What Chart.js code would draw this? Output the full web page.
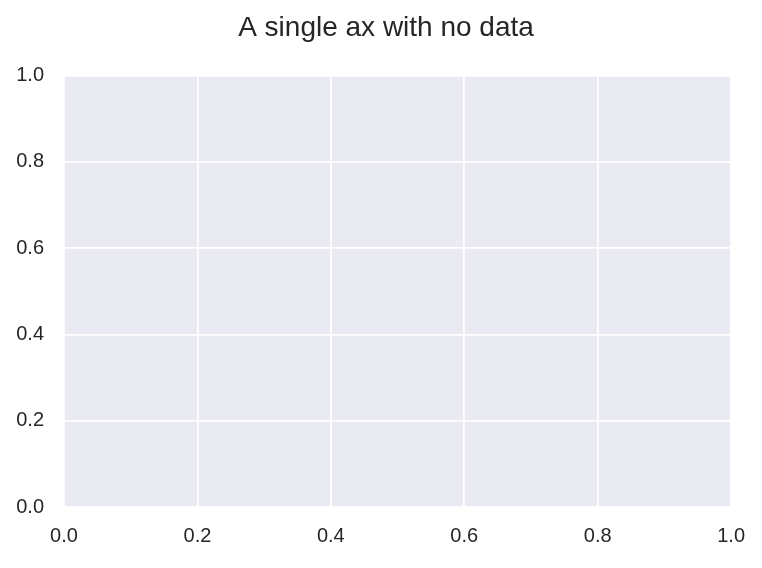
<!DOCTYPE html>
<html>
<head>
<meta charset="utf-8">
<script src="https://cdn.jsdelivr.net/npm/chart.js@4/dist/chart.umd.min.js"></script>
<style>
  body { margin: 0; background: #fff; }
  #wrap { width: 762px; height: 568px; }
</style>
</head>
<body>
<div id="wrap"><canvas id="grafico"></canvas></div>
<script>
// the axes hold no data at all
const xValues = [];
const yValues = [];
const xTicks = [0, 0.2, 0.4, 0.6, 0.8, 1.0];
const yTicks = [0, 0.2, 0.4, 0.6, 0.8, 1.0];
const tickLabels = ['0.0', '0.2', '0.4', '0.6', '0.8', '1.0'];

const corTexto = '#262626';

// fundo cinza-azulado do estilo seaborn
const fundoPlot = {
    id: 'fundoPlot',
    afterLayout(chart) {
        // centraliza o título na figura inteira, não só na área do layout
        const t = chart.titleBlock;
        if (t) { t.left += 20; t.right += 20; }
    },
    beforeDraw(chart) {
        const { ctx, chartArea: a } = chart;
        ctx.save();
        ctx.fillStyle = '#EAEAF2';
        ctx.fillRect(a.left, a.top, a.right - a.left, a.bottom - a.top);
        ctx.restore();
    }
};

function fixTicks(lista) {
    return function (scale) {
        scale.ticks = lista.map(v => ({ value: v }));
    };
}

new Chart(document.getElementById('grafico'), {
    type: 'scatter',
    data: {
        datasets: [{
            data: xValues.map((x, i) => ({ x: x, y: yValues[i] }))
        }]
    },
    options: {
        responsive: true,
        maintainAspectRatio: false,
        animation: false,
        layout: { padding: { left: 0, right: 30, top: 0, bottom: 0 } },
        plugins: {
            legend: { display: false },
            tooltip: { enabled: false },
            title: {
                display: true,
                text: 'A single ax with no data',
                color: corTexto,
                font: { family: 'Liberation Sans, Arial, sans-serif', size: 28, weight: 'normal' },
                padding: { top: 11, bottom: 31 }
            }
        },
        scales: {
            x: {
                type: 'linear',
                min: 0,
                max: 1,
                afterBuildTicks: fixTicks(xTicks),
                afterFit(scale) { scale.height = 61; },
                border: { display: false },
                grid: { color: '#ffffff', lineWidth: 1.8, drawTicks: false },
                ticks: {
                    color: corTexto,
                    padding: 17,
                    maxRotation: 0,
                    font: { family: 'Liberation Sans, Arial, sans-serif', size: 20 },
                    callback: (v, i) => tickLabels[i]
                }
            },
            y: {
                type: 'linear',
                min: 0,
                max: 1,
                afterBuildTicks: fixTicks(yTicks),
                afterFit(scale) { scale.width = 64; },
                border: { display: false },
                grid: { color: '#ffffff', lineWidth: 1.8, drawTicks: false },
                ticks: {
                    color: corTexto,
                    padding: 20,
                    font: { family: 'Liberation Sans, Arial, sans-serif', size: 20 },
                    callback: (v, i) => tickLabels[i]
                }
            }
        }
    },
    plugins: [fundoPlot]
});
</script>
</body>
</html>
